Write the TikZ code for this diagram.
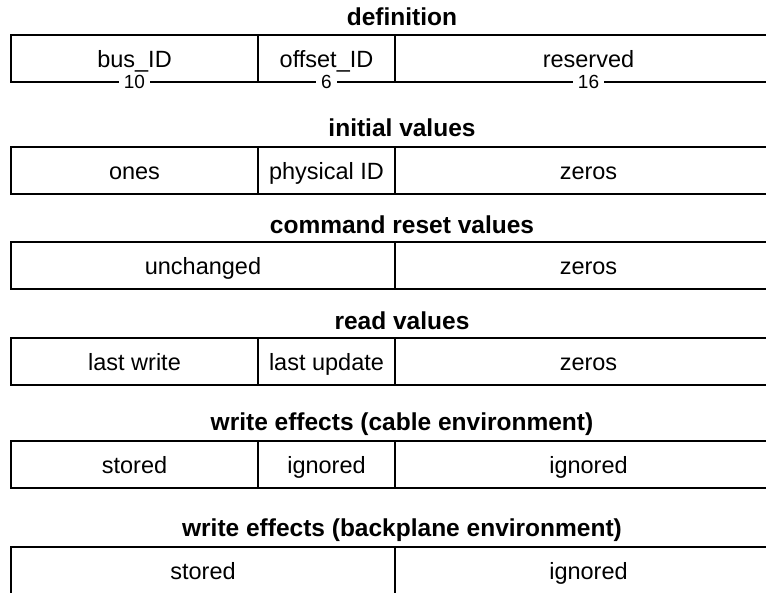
\documentclass[tikz,border=0pt]{standalone}
\usepackage{fontspec}
\setmainfont{Liberation Sans}
\usetikzlibrary{positioning}

\begin{document}
\begin{tikzpicture}[x=1pt,y=-1pt,
  field/.style={draw,line width=1.5pt,outer sep=0pt,inner sep=0pt,minimum height=47pt,
    text height=21pt,text depth=4pt,font=\fontsize{23.5}{26}\selectfont},
  title/.style={font=\bfseries\fontsize{24.5}{28}\selectfont},
  bits/.style={fill=white,inner xsep=5pt,inner ysep=1pt,font=\fontsize{19}{21}\selectfont}]
\useasboundingbox (0,0) rectangle (766,592);
\clip (0,0) rectangle (766,592);

% definition
\node[title] (defT) at (402,17) {definition};
\node[field,minimum width=247pt,anchor=north west] (defBus) at (11,35) {bus\_ID};
\node[field,minimum width=137pt,right=0pt of defBus] (defOff) {offset\_ID};
\node[field,minimum width=387pt,right=0pt of defOff] (defRes) {reserved};
\node[bits] (bBus) at (defBus.south) {10};
\node[bits] (bOff) at (defOff.south) {6};
\node[bits] (bRes) at (defRes.south) {16};

% initial values
\node[title] (iniT) at (402,128) {initial values};
\node[field,minimum width=247pt,anchor=north west] (iniOnes) at (11,147) {ones};
\node[field,minimum width=137pt,right=0pt of iniOnes] (iniPhy) {physical ID};
\node[field,minimum width=387pt,right=0pt of iniPhy] (iniZero) {zeros};

% command reset values
\node[title] (rstT) at (402,225) {command reset values};
\node[field,minimum width=384pt,anchor=north west] (rstKeep) at (11,242) {unchanged};
\node[field,minimum width=387pt,right=0pt of rstKeep] (rstZero) {zeros};

% read values
\node[title] (rdT) at (402,321) {read values};
\node[field,minimum width=247pt,anchor=north west] (rdWr) at (11,338) {last write};
\node[field,minimum width=137pt,right=0pt of rdWr] (rdUpd) {last update};
\node[field,minimum width=387pt,right=0pt of rdUpd] (rdZero) {zeros};

% write effects, cable
\node[title] (cabT) at (402,424) {write effects (cable environment)};
\node[field,minimum width=247pt,anchor=north west] (cabSt) at (11,441) {stored};
\node[field,minimum width=137pt,right=0pt of cabSt] (cabIg) {ignored};
\node[field,minimum width=387pt,right=0pt of cabIg] (cabRest) {ignored};

% write effects, backplane
\node[title] (bpT) at (402,530) {write effects (backplane environment)};
\node[field,minimum width=384pt,anchor=north west] (bpSt) at (11,547) {stored};
\node[field,minimum width=387pt,right=0pt of bpSt] (bpIg) {ignored};
\end{tikzpicture}
\end{document}
